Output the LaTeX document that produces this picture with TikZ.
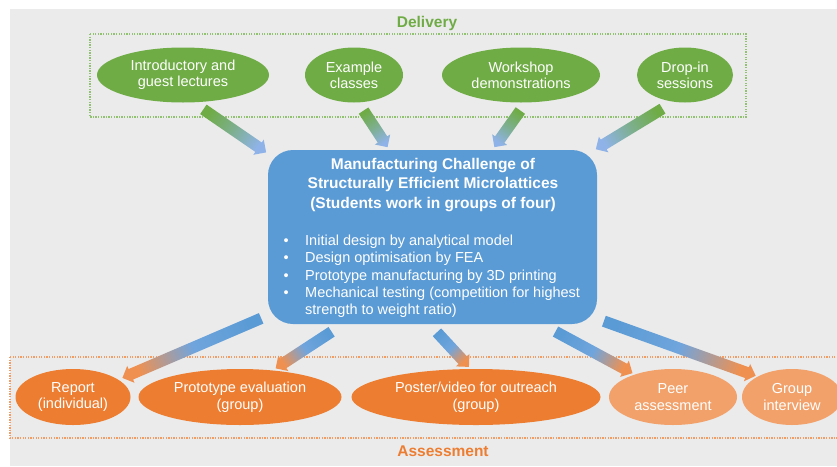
\documentclass[tikz,border=0pt]{standalone}
\usepackage{fontspec}
\setmainfont{Liberation Sans}
\usetikzlibrary{shapes.geometric,shapes.arrows,calc,positioning}

\definecolor{deliverygreen}{HTML}{6FAC46}
\definecolor{hubblue}{HTML}{5B9BD5}
\definecolor{tipblue}{HTML}{8FB3E8}
\definecolor{assessorange}{HTML}{ED7D31}
\definecolor{softorange}{HTML}{F2A16A}
\definecolor{bggray}{HTML}{EBEBEB}

% block arrow with a colour fade from tail to tip
\newcommand{\fatarrow}[5]{%
  \path let \p1=(#1), \p2=(#2), \n1={veclen(\x2-\x1,\y2-\y1)},
      \n2={atan2(\y2-\y1,\x2-\x1)+90} in
    (\p1) -- (\p2) node[fatarrow, midway, sloped, allow upside down,
      minimum height=\n1, left color=#3, right color=#5, middle color=#4,
      shading angle=\n2] {};}
\newcommand{\hubitem}[1]{\makebox[21.5pt][l]{\textbullet}#1}

\begin{document}
\begin{tikzpicture}[x=1pt, y=-1pt,
  activity/.style={ellipse, fill=deliverygreen, text=white, inner sep=0pt, minimum height=55pt, font=\fontsize{14.5}{16}\selectfont, align=center},
  task/.style={ellipse, fill=assessorange, text=white, inner sep=0pt, minimum height=56pt, font=\fontsize{14.5}{16.5}\selectfont, align=center},
  hubbox/.style={fill=hubblue, rounded corners=25pt, minimum width=329pt, minimum height=174pt},
  hubtitle/.style={text=white, inner sep=0pt, font=\fontsize{15.5}{19.5}\selectfont\bfseries, align=center},
  hublist/.style={text=white, inner sep=0pt, font=\fontsize{14.5}{17.3}\selectfont, align=left},
  grouplabel/.style={inner sep=0pt, font=\fontsize{15.5}{18}\selectfont\bfseries},
  frame/.style={line width=1.3pt, dash pattern=on 1.3pt off 1.3pt},
  fatarrow/.style={single arrow, single arrow head extend=3.5pt, inner xsep=0pt, inner ysep=5.5pt, minimum width=0pt, draw=none}
]
\useasboundingbox (0,0) rectangle (837,466);
\fill[bggray] (10,9) rectangle (837,466);

% delivery
\draw[frame, draw=deliverygreen!75!white] (90,34) rectangle (746,117);
\node[grouplabel, text=deliverygreen] (delivery) at (427,23) {Delivery};
\node[activity, minimum width=172pt] (intro) at (183,75) {Introductory and\\guest lectures};
\node[activity, minimum width=98pt] (example) at (354,75) {Example\\classes};
\node[activity, minimum width=158pt] (workshop) at (521,75) {Workshop\\demonstrations};
\node[activity, minimum width=96pt] (dropin) at (685,75) {Drop-in\\sessions};

% challenge
\node[hubbox] (hub) at (432.5,237) {};
\node[hubtitle] (title) at (433,185) {Manufacturing Challenge of\\Structurally Efficient Microlattices\\(Students work in groups of four)};
\node[hublist, anchor=west] (steps) at (283.5,276.5) {\hubitem{Initial design by analytical model}\\
  \hubitem{Design optimisation by FEA}\\
  \hubitem{Prototype manufacturing by 3D printing}\\
  \hubitem{Mechanical testing (competition for highest}\\
  \hspace*{21.5pt}strength to weight ratio)};

% assessment
\draw[frame, draw=assessorange!75!white] (10,357) rectangle (850,438);
\node[grouplabel, text=assessorange] (assessment) at (443,451) {Assessment};
\node[task, minimum width=115pt] (report) at (73,397) {Report\\(individual)};
\node[task, minimum width=203pt] (proto) at (240,397) {Prototype evaluation\\(group)};
\node[task, minimum width=249pt] (poster) at (476,397) {Poster/video for outreach\\(group)};
\node[task, fill=softorange, minimum width=128pt] (peer) at (673,397) {Peer\\assessment};
\node[task, fill=softorange, minimum width=100pt] (group) at (792,397) {Group\\interview};

% arrows
\fatarrow{$(intro.south)+(18,5)$}{$(hub.north west)+(-4,1)$}{deliverygreen}{deliverygreen!55!tipblue}{tipblue}
\fatarrow{$(example.south)+(8,5.5)$}{$(hub.north)+(-46.5,-5)$}{deliverygreen}{deliverygreen!55!tipblue}{tipblue}
\fatarrow{$(workshop.south)+(1,5.5)$}{$(hub.north)+(63.5,-5)$}{deliverygreen}{deliverygreen!55!tipblue}{tipblue}
\fatarrow{$(dropin.south)+(-20,4.5)$}{$(hub.north east)+(1,-2)$}{deliverygreen}{deliverygreen!55!tipblue}{tipblue}

\fatarrow{$(hub.south west)+(-4,-7)$}{$(report.north)+(52,8)$}{hubblue}{hubblue!60!tipblue}{assessorange!85!white}
\fatarrow{$(hub.south)+(-98.5,6)$}{$(proto.north)+(38,-2)$}{hubblue}{hubblue!60!tipblue}{assessorange!85!white}
\fatarrow{$(hub.south)+(2.5,6)$}{$(poster.north)+(-9,-4)$}{hubblue}{hubblue!60!tipblue}{assessorange!85!white}
\fatarrow{$(hub.south)+(120.5,6)$}{$(peer.north)+(-43,3)$}{hubblue}{hubblue!60!tipblue}{assessorange!85!white}
\fatarrow{$(hub.south east)+(4,-4)$}{$(group.north)+(-39,6)$}{hubblue}{hubblue!60!tipblue}{assessorange!85!white}
\end{tikzpicture}
\end{document}
